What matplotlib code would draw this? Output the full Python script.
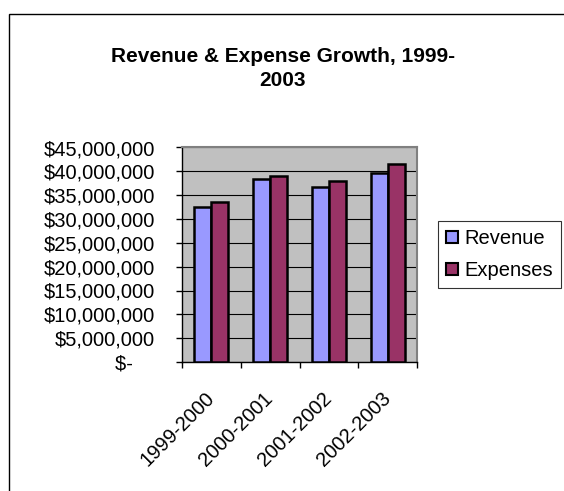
import numpy as np
import matplotlib.pyplot as plt
import matplotlib.transforms as mtransforms
from matplotlib.patches import Rectangle
from matplotlib.ticker import FuncFormatter, FixedLocator

plt.rcParams['font.family'] = ['Liberation Sans', 'DejaVu Sans']

periods = ['1999-2000', '2000-2001', '2001-2002', '2002-2003']
revenue = [32500000, 38300000, 36700000, 39700000]
expenses = [33600000, 39000000, 38000000, 41600000]

FS = 14.5

def dollars(v, pos):
    if v == 0:
        return '$-    '
    return '${:,.0f}'.format(v)

fig = plt.figure(figsize=(5.64, 4.91), dpi=100)
# chart border (right and bottom edges fall off the canvas)
fig.patches.append(Rectangle((9/564, -0.1), 1.2, 1 - 14/491 + 0.1, transform=fig.transFigure,
                             fill=False, edgecolor='black', linewidth=1.0))

ax = fig.add_axes([182/564, 1 - 362/491, (417-182)/564, (362-147.5)/491])
ax.set_facecolor('#C0C0C0')

x = np.arange(len(periods))
w = 0.29
ax.bar(x - w/2, revenue, w, color='#9999FF', edgecolor='black', linewidth=1.8,
       label='Revenue', zorder=3)
ax.bar(x + w/2, expenses, w, color='#993366', edgecolor='black', linewidth=1.8,
       label='Expenses', zorder=3)

ax.set_xlim(-0.5, len(periods) - 0.5)
ax.set_ylim(0, 45000000)
ax.set_yticks(np.arange(0, 45000001, 5000000))
ax.yaxis.set_major_formatter(FuncFormatter(dollars))
ax.grid(axis='y', color='black', linewidth=0.8, zorder=1)
ax.set_axisbelow(True)

ax.set_xticks(x)
ax.set_xticklabels(periods, rotation=45, ha='right', va='center',
                   rotation_mode='anchor', fontsize=FS)
shift = mtransforms.ScaledTranslation(-21/100, 0, fig.dpi_scale_trans)
for lab in ax.get_xticklabels():
    lab.set_transform(lab.get_transform() + shift)
ax.xaxis.set_minor_locator(FixedLocator(np.arange(-0.5, len(periods), 1.0)))
ax.tick_params(axis='x', which='major', length=0, pad=24)
ax.tick_params(axis='x', which='minor', length=4.3, width=1)
ax.tick_params(axis='y', length=4.3, width=1, labelsize=FS, pad=15)

for s in ['top', 'right']:
    ax.spines[s].set_color('#808080')
    ax.spines[s].set_linewidth(1.5)
for s in ['left', 'bottom']:
    ax.spines[s].set_color('black')
    ax.spines[s].set_linewidth(1.0)

fig.text(283/564, 1 - 56/491, 'Revenue & Expense Growth, 1999-', ha='center', va='center',
         fontsize=15, fontweight='bold')
fig.text(283/564, 1 - 80/491, '2003', ha='center', va='center',
         fontsize=15, fontweight='bold')

leg = fig.legend(loc='upper left', bbox_to_anchor=(438/564, 1 - 221/491), fontsize=FS,
                 frameon=True, fancybox=False, edgecolor='black', handlelength=0.6,
                 handleheight=0.6, handletextpad=0.3, borderpad=0.4, labelspacing=0.65,
                 borderaxespad=0)
leg.get_frame().set_linewidth(0.8)
for h in leg.legend_handles:
    h.set_linewidth(1.5)

fig.savefig('out.png', dpi=100)
